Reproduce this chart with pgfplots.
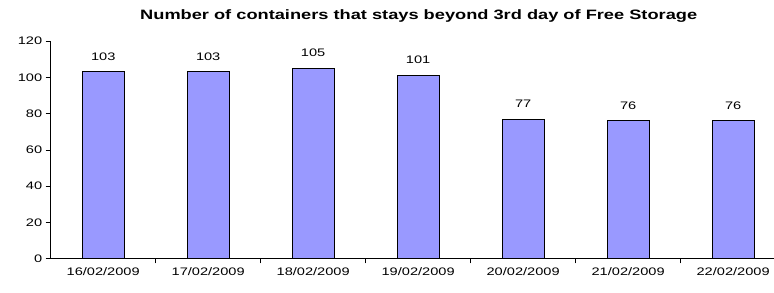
\documentclass[border=0pt]{standalone}
\usepackage{pgfplots}
\pgfplotsset{compat=1.18}
\usepackage{graphicx}
\usepackage{fontspec}
\setmainfont{Liberation Sans}
\definecolor{barfill}{HTML}{9999FF}
\newcommand{\sx}[1]{\scalebox{1.34}[1]{#1}}
\pgfkeys{/pgf/number format/assume math mode=true}
\begin{document}
\begin{tikzpicture}
\path[use as bounding box] (-50.7pt,-33.3pt) rectangle (723.3pt,258.7pt);
\begin{axis}[
  at={(0pt,0pt)}, anchor=south west,
  scale only axis, width=723.3pt, height=217.7pt,
  xmin=-0.5, xmax=6.389, ymin=0, ymax=120,
  axis x line=bottom, axis y line=left,
  axis line style={-, black, line width=0.6pt},
  tick align=outside,
  major tick length=5pt,
  /pgf/number format/assume math mode=true,
  ytick={0,20,...,120},
  yticklabel={\sx{\pgfmathprintnumber{\tick}}},
  xtick={0,...,6},
  xticklabels={\sx{16/02/2009},\sx{17/02/2009},\sx{18/02/2009},\sx{19/02/2009},\sx{20/02/2009},\sx{21/02/2009},\sx{22/02/2009}},
  minor xtick={0.5,1.5,...,5.5},
  minor tick length=4.7pt,
  major x tick style={draw=none},
  minor x tick style={black, line width=0.6pt},
  y tick style={black, line width=0.6pt},
  tick label style={font=\fontsize{10.9}{12}\selectfont},
  ybar, bar width=0.4, bar shift=0pt,
  nodes near coords={\sx{\pgfmathprintnumber{\pgfplotspointmeta}}},
  every node near coord/.append style={anchor=base, inner sep=0pt, yshift=11.7pt, font=\fontsize{10.9}{12}\selectfont},
  clip=false,
]
\addplot[fill=barfill, draw=black, line width=0.8pt] coordinates {
  (0,103) (1,103) (2,105) (3,101) (4,77) (5,76) (6,76)
};
\end{axis}
\node[anchor=base, font=\bfseries\fontsize{13.6}{16}\selectfont] at (368pt,239.4pt) {\sx{Number of containers that stays beyond 3rd day of Free Storage}};
\end{tikzpicture}
\end{document}
